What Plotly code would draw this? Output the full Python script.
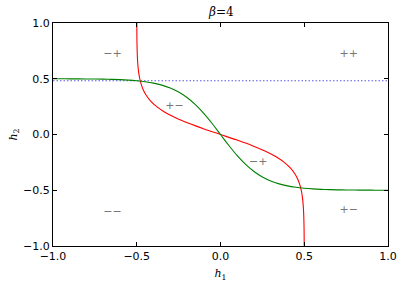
import plotly.graph_objects as go

# field values (h) and the response curve
h_vals = [-1.00, -0.95, -0.90, -0.85, -0.80, -0.75, -0.70, -0.65, -0.60, -0.55,
          -0.50, -0.45, -0.40, -0.35, -0.30, -0.25, -0.20, -0.15, -0.10, -0.05,
          0.00, 0.05, 0.10, 0.15, 0.20, 0.25, 0.30, 0.35, 0.40, 0.45,
          0.50, 0.55, 0.60, 0.65, 0.70, 0.75, 0.80, 0.85, 0.90, 0.95, 1.00]
m_vals = [0.4997, 0.4995, 0.4993, 0.4989, 0.4983, 0.4975, 0.4963, 0.4945, 0.4918, 0.4879,
          0.4820, 0.4734, 0.4608, 0.4427, 0.4168, 0.3808, 0.3320, 0.2685, 0.1900, 0.0987,
          0.0, -0.0987, -0.1900, -0.2685, -0.3320, -0.3808, -0.4168, -0.4427, -0.4608, -0.4734,
          -0.4820, -0.4879, -0.4918, -0.4945, -0.4963, -0.4975, -0.4983, -0.4989, -0.4993, -0.4995, -0.4997]
fixed_level = 0.482

region_labels = ["\u2212+", "++", "+\u2212", "\u2212+", "\u2212\u2212", "+\u2212"]
region_x = [-0.70, 0.71, -0.33, 0.17, -0.70, 0.71]
region_y = [0.72, 0.72, 0.25, -0.25, -0.70, -0.68]

ticks = [-1.0, -0.5, 0.0, 0.5, 1.0]
tick_text = ["\u22121.0", "\u22120.5", "0.0", "0.5", "1.0"]

fig = go.Figure()
fig.add_trace(go.Scatter(x=[-1, 1], y=[fixed_level, fixed_level], mode="lines",
                         line=dict(color="#5a5af0", width=1.2, dash="1.5px,2px"),
                         showlegend=False))
fig.add_trace(go.Scatter(x=m_vals, y=h_vals, mode="lines", line=dict(color="#ff0000", width=1.1, shape="spline"),
                         showlegend=False))
fig.add_trace(go.Scatter(x=h_vals, y=m_vals, mode="lines", line=dict(color="#008000", width=1.1, shape="spline"),
                         showlegend=False))
fig.add_trace(go.Scatter(x=region_x, y=region_y, mode="text", text=region_labels,
                         textposition="middle right",
                         textfont=dict(color="#777777", size=11, family="DejaVu Sans"),
                         showlegend=False))

axis_common = dict(range=[-1, 1], tickvals=ticks, ticktext=tick_text, ticks="inside", ticklen=4,
                   tickcolor="black", showline=True, linecolor="black", linewidth=1.2, mirror="ticks",
                   showgrid=False, zeroline=False, automargin=False,
                   tickfont=dict(family="DejaVu Sans", size=11, color="black"))

fig.update_xaxes(**axis_common,
                 title=dict(text="<i>h</i><sub>1</sub>", font=dict(family="DejaVu Serif", size=11, color="black"),
                            standoff=7))
fig.update_yaxes(**axis_common,
                 title=dict(text="<i>h</i><sub>2</sub>", font=dict(family="DejaVu Serif", size=11, color="black"),
                            standoff=3))

fig.add_annotation(text="<i>\u03b2</i>=4", xref="paper", yref="paper", x=0.5, y=1.0,
                   xanchor="center", yanchor="bottom", yshift=2, showarrow=False,
                   font=dict(family="DejaVu Serif", size=12, color="black"))

fig.update_layout(
    width=402, height=287,
    margin=dict(l=53, r=14, t=23, b=41, autoexpand=False),
    plot_bgcolor="white", paper_bgcolor="white",
)

fig.write_html("out.html", config={"displayModeBar": False},
               post_script="document.body.style.margin='0px';")
